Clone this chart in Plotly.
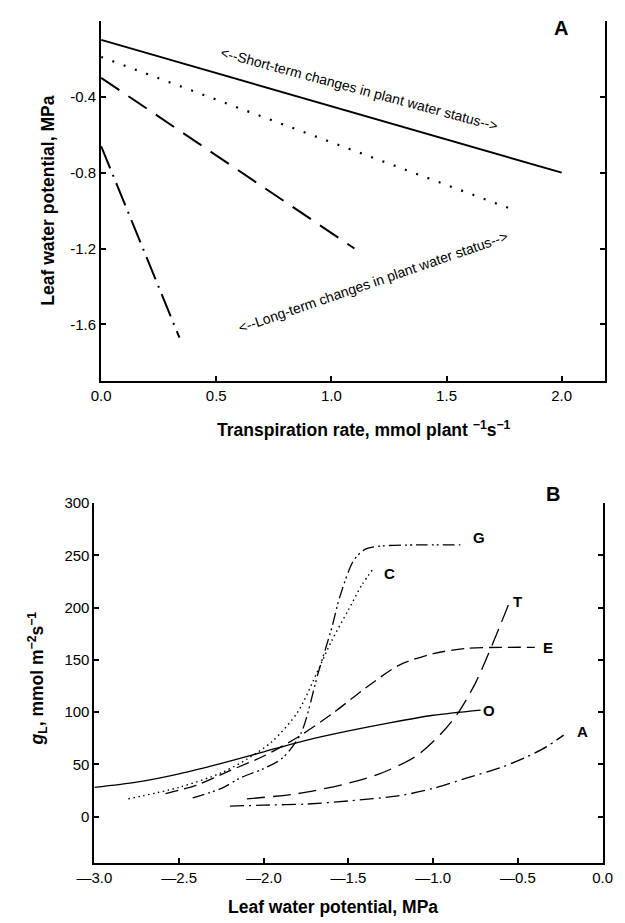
import plotly.graph_objects as go

W, H = 625, 923
FONT = "Liberation Sans, Arial, Helvetica, sans-serif"

# ---------------- Panel A data ----------------
a_solid_x = [0.0, 2.0]
a_solid_y = [-0.10, -0.80]
a_dot_x = [0.0, 1.8]
a_dot_y = [-0.19, -1.00]
a_dash_x = [0.0, 1.1]
a_dash_y = [-0.30, -1.20]
a_dashdot_x = [0.0, 0.34]
a_dashdot_y = [-0.66, -1.67]
a_xtickvals = [0.0, 0.5, 1.0, 1.5, 2.0]
a_xticktext = ["0.0", "0.5", "1.0", "1.5", "2.0"]
a_ytickvals = [-0.4, -0.8, -1.2, -1.6]
a_yticktext = ["-0.4", "-0.8", "-1.2", "-1.6"]

# ---------------- Panel B data ----------------
b_O_x = [-3.0, -2.75, -2.5, -2.25, -2.0, -1.75, -1.5, -1.25, -1.0, -0.72]
b_O_y = [28, 33, 41, 51, 62, 73, 82, 90, 97, 102]
b_C_x = [-2.8, -2.5, -2.25, -2.1, -1.95, -1.8, -1.68, -1.6, -1.5, -1.42, -1.35]
b_C_y = [17, 28, 42, 55, 72, 100, 140, 168, 198, 222, 238]
b_G_x = [-2.42, -2.25, -2.14, -2.0, -1.89, -1.78, -1.68, -1.6, -1.55, -1.47, -1.4, -1.3, -1.1, -0.84]
b_G_y = [18, 27, 37, 46, 56, 80, 137, 180, 211, 245, 256, 259, 260, 260]
b_E_x = [-2.58, -2.4, -2.2, -2.0, -1.8, -1.6, -1.4, -1.2, -1.0, -0.8, -0.6, -0.4]
b_E_y = [22, 30, 44, 58, 76, 98, 123, 145, 156, 161, 162, 162]
b_T_x = [-2.1, -1.8, -1.5, -1.3, -1.1, -0.95, -0.85, -0.75, -0.65, -0.55]
b_T_y = [17, 22, 32, 42, 58, 80, 100, 128, 165, 205]
b_A_x = [-2.2, -2.0, -1.75, -1.5, -1.2, -1.0, -0.8, -0.6, -0.45, -0.33, -0.23]
b_A_y = [10, 11, 12, 15, 20, 27, 37, 47, 57, 67, 78]
b_xtickvals = [-3.0, -2.5, -2.0, -1.5, -1.0, -0.5, 0.0]
b_xticktext = ["\u20143.0", "\u20142.5", "\u20142.0", "\u20141.5", "\u20141.0", "\u20140.5", "0.0"]
b_ytickvals = [0, 50, 100, 150, 200, 250, 300]
b_yticktext = ["0", "50", "100", "150", "200", "250", "300"]

fig = go.Figure()

def line(x, y, dash, width, xa, ya, shape="linear"):
    fig.add_trace(go.Scatter(x=x, y=y, mode="lines", xaxis=xa, yaxis=ya,
                             line=dict(color="black", width=width, dash=dash, shape=shape, smoothing=0.8),
                             showlegend=False, hoverinfo="skip"))

line(a_solid_x, a_solid_y, "solid", 2, "x", "y")
line(a_dot_x, a_dot_y, "2px,10px", 2.2, "x", "y")
line(a_dash_x, a_dash_y, "22px,11px", 2, "x", "y")
line(a_dashdot_x, a_dashdot_y, "24px,7px,2px,7px", 2, "x", "y")

line(b_O_x, b_O_y, "solid", 1.3, "x2", "y2", "spline")
line(b_C_x, b_C_y, "1.5px,3.5px", 1.4, "x2", "y2", "spline")
line(b_G_x, b_G_y, "12px,4px,2px,3px,2px,4px", 1.3, "x2", "y2", "spline")
line(b_E_x, b_E_y, "13px,6px", 1.3, "x2", "y2", "spline")
line(b_T_x, b_T_y, "18px,8px", 1.3, "x2", "y2", "spline")
line(b_A_x, b_A_y, "14px,5px,2px,5px", 1.3, "x2", "y2", "spline")

# empty traces so the right-side axes are drawn
fig.add_trace(go.Scatter(x=[], y=[], xaxis="x", yaxis="y3", showlegend=False))
fig.add_trace(go.Scatter(x=[], y=[], xaxis="x2", yaxis="y4", showlegend=False))

tickfont = dict(family=FONT, size=15, color="black")
ax_common = dict(showline=True, linecolor="black", linewidth=2, ticks="inside", ticklen=5,
                 tickwidth=1.5, tickcolor="black", showgrid=False, zeroline=False,
                 tickfont=tickfont, tickmode="array")
ax_right = {k: v for k, v in ax_common.items() if k != "tickfont"}

A_X = [87 / W, 615 / W]
A_Y = [1 - 376 / H, 1 - 12 / H]
B_X = [80 / W, 612 / W]
B_Y = [1 - 862 / H, 1 - 499 / H]

fig.update_layout(
    width=W, height=H, margin=dict(l=0, r=0, t=0, b=0),
    paper_bgcolor="white", plot_bgcolor="white",
    xaxis=dict(domain=A_X, range=[0, 2.19], anchor="y", tickvals=a_xtickvals, ticktext=a_xticktext, **ax_common),
    yaxis=dict(domain=A_Y, range=[-1.9, 0.0], anchor="x", tickvals=a_ytickvals, ticktext=a_yticktext, **ax_common),
    yaxis3=dict(overlaying="y", side="right", anchor="x", range=[-1.9, 0.0], tickvals=a_ytickvals,
                showticklabels=False, **ax_right),
    xaxis2=dict(domain=B_X, range=[-3.0, 0.0], anchor="y2", tickvals=b_xtickvals, ticktext=b_xticktext, **ax_common),
    yaxis2=dict(domain=B_Y, range=[-44, 300], anchor="x2", tickvals=b_ytickvals, ticktext=b_yticktext, **ax_common),
    yaxis4=dict(overlaying="y2", side="right", anchor="x2", range=[-44, 300], tickvals=b_ytickvals,
                showticklabels=False, **ax_right),
)

ann = []
def txt(x, y, text, size=12, bold=False, angle=0, xref="paper", yref="paper", xanchor="center"):
    t = f"<b>{text}</b>" if bold else text
    ann.append(dict(x=x, y=y, xref=xref, yref=yref, text=t, showarrow=False, textangle=angle,
                    xanchor=xanchor, yanchor="middle",
                    font=dict(family=FONT, size=size, color="black")))

# Panel A annotations
txt(1.12, -0.36, "&lt;--Short-term changes in plant water status--&gt;", 14, angle=15, xref="x", yref="y")
txt(1.18, -1.375, "&lt;--Long-term changes in plant water status--&gt;", 14, angle=-19, xref="x", yref="y")
txt(568 / W, 1 - 19 / H, "A", 20, bold=True)
txt(32 / W, 1 - 194 / H, "Leaf water potential, MPa", 17.5, bold=True, angle=-90)
txt(362 / W, 1 - 424 / H, "Transpiration rate, mmol plant <sup>\u22121</sup>s<sup>\u22121</sup>", 17.5, bold=True)

# Panel B annotations
for lab, x, y in [("G", -0.73, 267), ("C", -1.26, 233), ("T", -0.50, 206), ("E", -0.32, 162), ("O", -0.67, 102), ("A", -0.12, 81)]:
    txt(x, y, lab, 15, bold=True, xref="x2", yref="y2")
txt(560 / W, 1 - 490 / H, "B", 20, bold=True)
txt(20 / W, 1 - 676 / H, "<i>g</i><sub>L</sub>, mmol m<sup>\u22122</sup>s<sup>\u22121</sup>", 17.5, bold=True, angle=-90)
txt(330 / W, 1 - 907 / H, "Leaf water potential, MPa", 17.5, bold=True)

fig.update_layout(annotations=ann)
fig.write_html("out.html",
               post_script="document.body.style.margin='0';document.body.style.overflow='hidden';")
